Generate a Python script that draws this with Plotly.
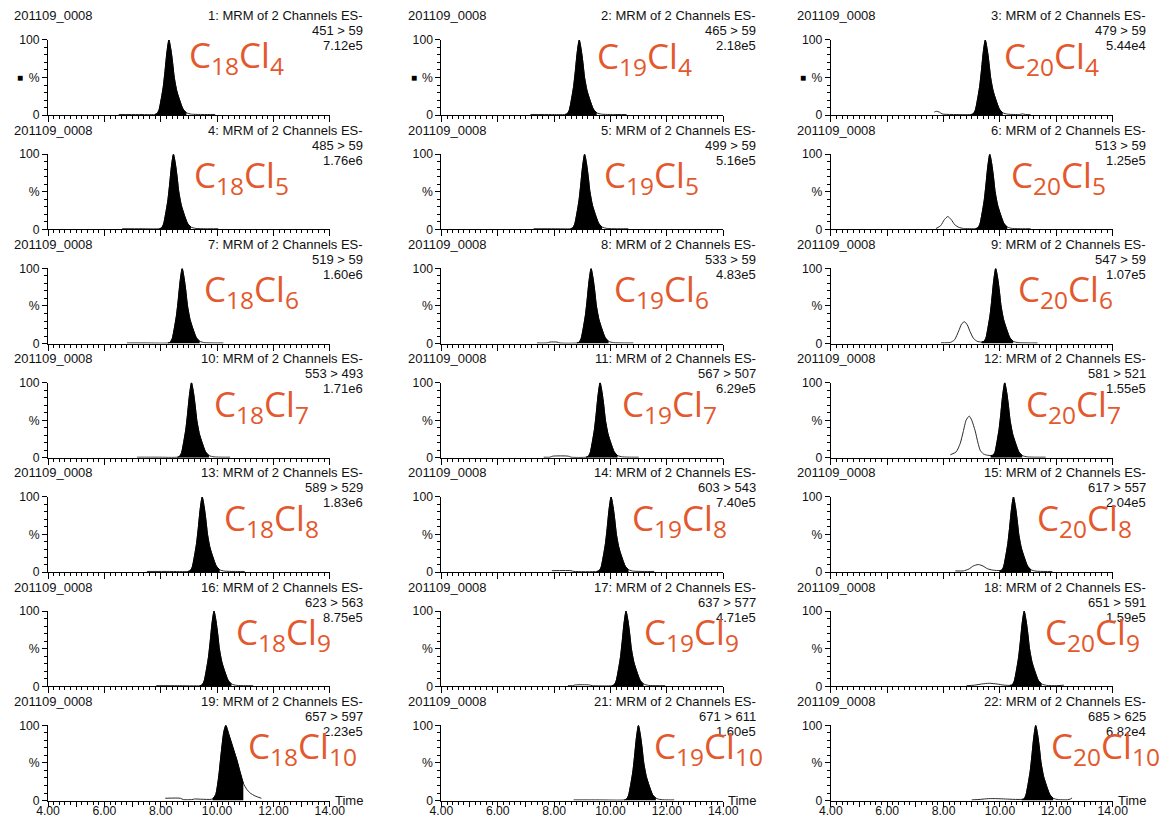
import plotly.graph_objects as go

W, H = 1169, 821

# ---------------- data ----------------
PANEL_NO = [1, 2, 3, 4, 5, 6, 7, 8, 9, 10, 11, 12, 13, 14, 15, 16, 17, 18, 19, 21, 22]
TRANSITION = ["451 > 59", "465 > 59", "479 > 59", "485 > 59", "499 > 59", "513 > 59",
              "519 > 59", "533 > 59", "547 > 59", "553 > 493", "567 > 507", "581 > 521",
              "589 > 529", "603 > 543", "617 > 557", "623 > 563", "637 > 577", "651 > 591",
              "657 > 597", "671 > 611", "685 > 625"]
MAX_INT = ["7.12e5", "2.18e5", "5.44e4", "1.76e6", "5.16e5", "1.25e5", "1.60e6", "4.83e5",
           "1.07e5", "1.71e6", "6.29e5", "1.55e5", "1.83e6", "7.40e5", "2.04e5", "8.75e5",
           "4.71e5", "1.59e5", "2.23e5", "1.60e5", "6.82e4"]
N_C = [18, 19, 20] * 7
N_CL = [4, 4, 4, 5, 5, 5, 6, 6, 6, 7, 7, 7, 8, 8, 8, 9, 9, 9, 10, 10, 10]
SAMPLE = "201109_0008"
X_TICKS = [4, 5, 6, 7, 8, 9, 10, 11, 12, 13, 14]
X_TICK_TEXT = ["4.00", "", "6.00", "", "8.00", "", "10.00", "", "12.00", "", "14.00"]

# chromatograms (time in min, intensity in % of max)
t1 = [6.51, 7.20, 7.79, 7.87, 7.94, 8.01, 8.09, 8.15, 8.22, 8.29, 8.36, 8.42, 8.48, 8.57, 8.67, 8.79, 8.91, 9.09, 9.50, 9.93]
y1 = [0.8, 0.8, 0.8, 2, 7, 20, 38, 58, 84, 100, 87, 70, 50, 32, 20, 8, 3, 1.2, 0.8, 0.8]
t2 = [7.16, 7.90, 8.39, 8.47, 8.54, 8.61, 8.69, 8.75, 8.82, 8.89, 8.96, 9.02, 9.08, 9.17, 9.27, 9.39, 9.51, 9.69, 10.10, 10.57]
y2 = [0.8, 0.8, 0.8, 2, 7, 20, 38, 58, 84, 100, 87, 70, 50, 32, 20, 8, 3, 1.2, 0.8, 0.8]
t3 = [7.67, 7.74, 7.85, 7.95, 8.30, 8.98, 9.06, 9.13, 9.20, 9.28, 9.34, 9.41, 9.48, 9.55, 9.61, 9.67, 9.76, 9.86, 9.98, 10.10, 10.28, 10.70, 10.80, 10.90, 11.09]
y3 = [4, 5, 4, 1.5, 0.8, 0.8, 2, 7, 20, 38, 58, 84, 100, 87, 70, 50, 32, 20, 8, 3, 1.2, 0.8, 1.6, 0.8, 0.5]
t4 = [6.63, 7.30, 7.95, 8.03, 8.10, 8.17, 8.25, 8.31, 8.38, 8.45, 8.52, 8.58, 8.64, 8.73, 8.83, 8.95, 9.07, 9.25, 9.60, 10.04]
y4 = [0.8, 0.8, 0.8, 2, 7, 20, 38, 58, 84, 100, 87, 70, 50, 32, 20, 8, 3, 1.2, 0.8, 0.8]
t5 = [7.27, 8.00, 8.58, 8.66, 8.73, 8.80, 8.88, 8.94, 9.01, 9.08, 9.15, 9.21, 9.27, 9.36, 9.46, 9.58, 9.70, 9.88, 10.20, 10.63]
y5 = [0.8, 0.8, 0.8, 2, 7, 20, 38, 58, 84, 100, 87, 70, 50, 32, 20, 8, 3, 1.2, 0.8, 0.8]
t6 = [7.73, 7.90, 8.03, 8.15, 8.27, 8.40, 8.55, 8.70, 9.14, 9.22, 9.29, 9.36, 9.44, 9.50, 9.57, 9.64, 9.71, 9.77, 9.83, 9.92, 10.02, 10.14, 10.26, 10.44, 10.80, 11.09]
y6 = [1.0, 5, 13, 17, 13, 6, 2.5, 1.2, 1.0, 2, 7, 20, 38, 58, 84, 100, 87, 70, 50, 32, 20, 8, 3, 1.2, 0.8, 0.8]
t7 = [6.80, 7.50, 8.26, 8.34, 8.41, 8.48, 8.56, 8.62, 8.69, 8.76, 8.83, 8.89, 8.95, 9.04, 9.14, 9.26, 9.38, 9.56, 9.90, 10.22]
y7 = [0.8, 0.8, 0.8, 2, 7, 20, 38, 58, 84, 100, 87, 70, 50, 32, 20, 8, 3, 1.2, 0.8, 0.8]
t8 = [7.39, 7.75, 7.85, 8.10, 8.20, 8.81, 8.89, 8.96, 9.03, 9.11, 9.17, 9.24, 9.31, 9.38, 9.44, 9.50, 9.59, 9.69, 9.81, 9.93, 10.11, 10.45, 10.81]
y8 = [0.8, 0.8, 2, 2, 0.8, 0.8, 2, 7, 20, 38, 58, 84, 100, 87, 70, 50, 32, 20, 8, 3, 1.2, 0.8, 0.8]
t9 = [7.91, 8.24, 8.39, 8.54, 8.64, 8.74, 8.84, 8.94, 9.06, 9.19, 9.35, 9.43, 9.50, 9.57, 9.65, 9.71, 9.78, 9.85, 9.92, 9.98, 10.04, 10.13, 10.23, 10.35, 10.47, 10.65, 11.00, 11.33]
y9 = [1, 1.5, 5, 17, 26, 29, 25, 16, 7, 3, 2, 3, 7, 20, 38, 58, 84, 100, 87, 70, 50, 32, 20, 8, 3, 1.2, 0.8, 0.8]
t10 = [7.16, 7.90, 8.59, 8.67, 8.74, 8.81, 8.89, 8.95, 9.02, 9.09, 9.16, 9.22, 9.28, 9.37, 9.47, 9.59, 9.71, 9.89, 10.20, 10.46]
y10 = [0.8, 0.8, 0.8, 2, 7, 20, 38, 58, 84, 100, 87, 70, 50, 32, 20, 8, 3, 1.2, 0.8, 0.8]
t11 = [7.63, 7.85, 7.95, 8.50, 8.60, 9.13, 9.21, 9.28, 9.35, 9.43, 9.49, 9.56, 9.63, 9.70, 9.76, 9.82, 9.91, 10.01, 10.13, 10.25, 10.43, 10.75, 11.00]
y11 = [0.8, 0.8, 2.2, 2.2, 0.8, 0.8, 2, 7, 20, 38, 58, 84, 100, 87, 70, 50, 32, 20, 8, 3, 1.2, 0.8, 0.8]
t12 = [8.24, 8.45, 8.59, 8.70, 8.80, 8.91, 9.00, 9.12, 9.22, 9.30, 9.42, 9.55, 9.67, 9.75, 9.82, 9.89, 9.97, 10.03, 10.10, 10.17, 10.24, 10.30, 10.36, 10.45, 10.55, 10.67, 10.79, 10.97, 11.30, 11.62]
y12 = [4, 8, 19, 35, 50, 55.5, 50, 36, 20, 10, 5, 3.5, 3, 3.5, 7, 20, 38, 58, 84, 100, 87, 70, 50, 32, 20, 8, 3, 1.2, 0.8, 0.8]
t13 = [7.51, 8.30, 8.97, 9.05, 9.12, 9.19, 9.27, 9.33, 9.40, 9.47, 9.54, 9.60, 9.66, 9.75, 9.85, 9.97, 10.09, 10.27, 10.60, 10.98]
y13 = [0.8, 0.8, 0.8, 2, 7, 20, 38, 58, 84, 100, 87, 70, 50, 32, 20, 8, 3, 1.2, 0.8, 0.8]
t14 = [7.92, 8.60, 8.70, 9.52, 9.60, 9.67, 9.74, 9.82, 9.88, 9.95, 10.02, 10.09, 10.15, 10.21, 10.30, 10.40, 10.52, 10.64, 10.82, 11.20, 11.55]
y14 = [1.8, 1.8, 0.8, 0.8, 2, 7, 20, 38, 58, 84, 100, 87, 70, 50, 32, 20, 8, 3, 1.2, 0.8, 0.8]
t15 = [8.42, 8.70, 8.90, 9.05, 9.23, 9.40, 9.55, 9.75, 9.98, 10.06, 10.13, 10.20, 10.28, 10.34, 10.41, 10.48, 10.55, 10.61, 10.67, 10.76, 10.86, 10.98, 11.10, 11.28, 11.60, 11.86]
y15 = [1.5, 1.5, 4, 8, 10, 8, 4.5, 2.5, 2, 2.5, 7, 20, 38, 58, 84, 100, 87, 70, 50, 32, 20, 8, 3, 1.2, 0.8, 0.8]
t16 = [7.84, 8.60, 9.39, 9.47, 9.54, 9.61, 9.69, 9.75, 9.82, 9.89, 9.96, 10.02, 10.08, 10.17, 10.27, 10.39, 10.51, 10.69, 11.00, 11.28]
y16 = [0.8, 0.8, 0.8, 2, 7, 20, 38, 58, 84, 100, 87, 70, 50, 32, 20, 8, 3, 1.2, 0.8, 0.8]
t17 = [8.49, 8.65, 8.75, 9.25, 9.35, 10.05, 10.13, 10.20, 10.27, 10.35, 10.41, 10.48, 10.55, 10.62, 10.68, 10.74, 10.83, 10.93, 11.05, 11.17, 11.35, 11.65, 11.94]
y17 = [0.8, 0.8, 1.8, 1.8, 0.8, 0.8, 2, 7, 20, 38, 58, 84, 100, 87, 70, 50, 32, 20, 8, 3, 1.2, 0.8, 0.8]
t18 = [8.82, 9.10, 9.35, 9.62, 9.90, 10.15, 10.36, 10.44, 10.51, 10.58, 10.66, 10.72, 10.79, 10.86, 10.93, 10.99, 11.05, 11.14, 11.24, 11.36, 11.48, 11.66, 12.00, 12.27]
y18 = [0.8, 1.5, 3, 4, 3, 1.5, 1.2, 2, 7, 20, 38, 58, 84, 100, 87, 70, 50, 32, 20, 8, 3, 1.2, 0.8, 1.5]
t19 = [8.16, 8.70, 8.80, 9.10, 9.20, 9.84, 9.95, 10.05, 10.15, 10.24, 10.31, 10.40, 10.50, 10.60, 10.70, 10.80, 10.93, 11.05, 11.17, 11.35, 11.57]
y19 = [3, 3, 1.2, 1.2, 2, 2, 8, 30, 65, 92, 100, 90, 78, 66, 54, 40, 23, 15, 10, 6, 3]
t21 = [8.69, 9.60, 10.49, 10.57, 10.64, 10.71, 10.79, 10.85, 10.92, 10.99, 11.06, 11.12, 11.18, 11.27, 11.37, 11.49, 11.61, 11.79, 12.05, 12.26]
y21 = [0.8, 0.8, 0.8, 2, 7, 20, 38, 58, 84, 100, 87, 70, 50, 32, 20, 8, 3, 1.2, 0.8, 0.8]
t22 = [9.00, 9.30, 9.60, 9.90, 10.20, 10.50, 10.77, 10.85, 10.92, 10.99, 11.07, 11.13, 11.20, 11.27, 11.34, 11.40, 11.46, 11.55, 11.65, 11.77, 11.89, 12.07, 12.40, 12.50, 12.56]
y22 = [0.8, 1.5, 2.5, 2.5, 2, 1.5, 1.5, 2, 7, 20, 38, 58, 84, 100, 87, 70, 50, 32, 20, 8, 3, 1.2, 1.0, 2, 3.5]

# integrated (filled) peak window, minutes
FILL_START = [7.79, 8.39, 8.98, 7.95, 8.58, 9.14, 8.26, 8.81, 9.35, 8.59, 9.13, 9.67,
              8.97, 9.52, 9.98, 9.39, 10.05, 10.36, 9.84, 10.49, 10.77]
FILL_END = [8.91, 9.51, 10.10, 9.07, 9.70, 10.26, 9.38, 9.93, 10.47, 9.71, 10.25, 10.79,
            10.09, 10.64, 11.10, 10.51, 11.17, 11.48, 10.93, 11.61, 11.89]

TIMES = [t1, t2, t3, t4, t5, t6, t7, t8, t9, t10, t11, t12, t13, t14, t15, t16, t17, t18, t19, t21, t22]
VALUES = [y1, y2, y3, y4, y5, y6, y7, y8, y9, y10, y11, y12, y13, y14, y15, y16, y17, y18, y19, y21, y22]

# ---------------- layout (target picture pixels) ----------------
COL_X0 = [44, 439, 830]
COL_X1 = [327, 722, 1113]
ROW_TOP0 = 40.7
ROW_PITCH = 114
PLOT_H = 75
LABEL_X = [188, 598, 1006, 193, 605, 1013, 203, 615, 1020, 213, 623, 1028,
           223, 633, 1040, 235, 645, 1048, 247, 655, 1054]
LABEL_DY = [17, 17.5, 17.5] + [22.5] * 18

ORANGE = "#E3582C"
BLACK_FONT = "Arial, Liberation Sans, sans-serif"
LABEL_FONT = "Open Sans, Noto Sans, sans-serif"

# the page is shown with the browser's default body margin and fitted to the window
PAGE_SCALE = 821 / 837
PAGE_OFF = 8 * PAGE_SCALE


def fx(x):
    return (x - PAGE_OFF) / PAGE_SCALE


def fy(y):
    return (y - PAGE_OFF) / PAGE_SCALE


def px(x):
    return fx(x) / W


def py(y):
    return 1 - fy(y) / H


fig = go.Figure()
layout = dict(width=W, height=H, margin=dict(l=0, r=0, t=0, b=0),
              paper_bgcolor="white", plot_bgcolor="white", showlegend=False)
annotations = []
hdr_font = dict(family=BLACK_FONT, size=13, color="#111")
tick_font = dict(family=BLACK_FONT, size=12.2, color="#111")

for i in range(21):
    r, c = divmod(i, 3)
    top = ROW_TOP0 + r * ROW_PITCH
    sfx = "" if i == 0 else str(i + 1)
    xr, yr = "x" + sfx, "y" + sfx
    t, v = TIMES[i], VALUES[i]

    fig.add_trace(go.Scatter(x=t, y=v, mode="lines", xaxis=xr, yaxis=yr,
                             line=dict(color="#2a2a2a", width=1, shape="spline", smoothing=0.6),
                             hoverinfo="skip"))
    inside = [FILL_START[i] - 1e-9 <= a <= FILL_END[i] + 1e-9 for a in t]
    ft = [a for a, k in zip(t, inside) if k]
    fv = [b for b, k in zip(v, inside) if k]
    fig.add_trace(go.Scatter(x=ft, y=fv, mode="lines", xaxis=xr, yaxis=yr, fill="tozeroy",
                             fillcolor="black",
                             line=dict(color="black", width=1, shape="spline", smoothing=0.6),
                             hoverinfo="skip"))

    bottom_row = (r == 6)
    xa = dict(
        domain=[px(COL_X0[c]), px(COL_X1[c])], range=[4, 14], anchor=yr,
        showline=True, linecolor="black", linewidth=1, showgrid=False, zeroline=False,
        ticks="outside", ticklen=6, tickwidth=1, tickcolor="black",
        tickmode="array", tickvals=X_TICKS, ticktext=X_TICK_TEXT,
        showticklabels=bottom_row, tickfont=tick_font,
        minor=dict(tick0=4, dtick=0.2, ticks="outside", ticklen=3, tickwidth=1,
                   tickcolor="black", showgrid=False),
        fixedrange=True)
    if bottom_row:
        xa["ticklen"] = 5
        xa["ticklabelstandoff"] = -6
    layout["xaxis" + sfx] = xa
    layout["yaxis" + sfx] = dict(
        domain=[py(top + PLOT_H), py(top)], range=[0, 100], anchor=xr,
        showline=True, linecolor="black", linewidth=1, showgrid=False, zeroline=False,
        ticks="outside", ticklen=5, tickwidth=1, tickcolor="black",
        tickmode="array", tickvals=[0, 50, 100], ticktext=["0", "%", "100"],
        tickfont=tick_font,
        minor=dict(tick0=0, dtick=10, ticks="outside", ticklen=3, tickwidth=1,
                   tickcolor="black", showgrid=False),
        fixedrange=True)

    annotations.append(dict(x=px(COL_X0[c] - 36), y=py(top - 24), xref="paper", yref="paper",
                            text=SAMPLE, showarrow=False, xanchor="left", yanchor="middle",
                            font=hdr_font))
    right_x = px(COL_X0[c] + 318)
    for k, txt in enumerate([f"{PANEL_NO[i]}: MRM of 2 Channels ES-", TRANSITION[i], MAX_INT[i]]):
        annotations.append(dict(x=right_x, y=py(top - 24 + 15 * k), xref="paper", yref="paper",
                                text=txt, showarrow=False, xanchor="right", yanchor="middle",
                                font=hdr_font))
    if r == 0:
        annotations.append(dict(x=px(COL_X0[c] - 28), y=py(top + PLOT_H / 2), xref="paper",
                                yref="paper", text="■", showarrow=False, xanchor="center",
                                yanchor="middle", font=dict(family=BLACK_FONT, size=10, color="black")))
    if bottom_row:
        annotations.append(dict(x=px(COL_X1[c] + 3), y=py(top + PLOT_H - 0.5), xref="paper",
                                yref="paper", text="Time", showarrow=False, xanchor="left",
                                yanchor="middle", font=hdr_font))
    annotations.append(dict(x=px(LABEL_X[i] - 4.5), y=py(top + LABEL_DY[i]), xref="paper",
                            yref="paper",
                            text=f"C<sub>{N_C[i]}</sub>Cl<sub>{N_CL[i]}</sub>",
                            showarrow=False, xanchor="left", yanchor="middle",
                            font=dict(family=LABEL_FONT, size=35, color=ORANGE)))

layout["annotations"] = annotations
fig.update_layout(**layout)
fig.write_html("out.html")
